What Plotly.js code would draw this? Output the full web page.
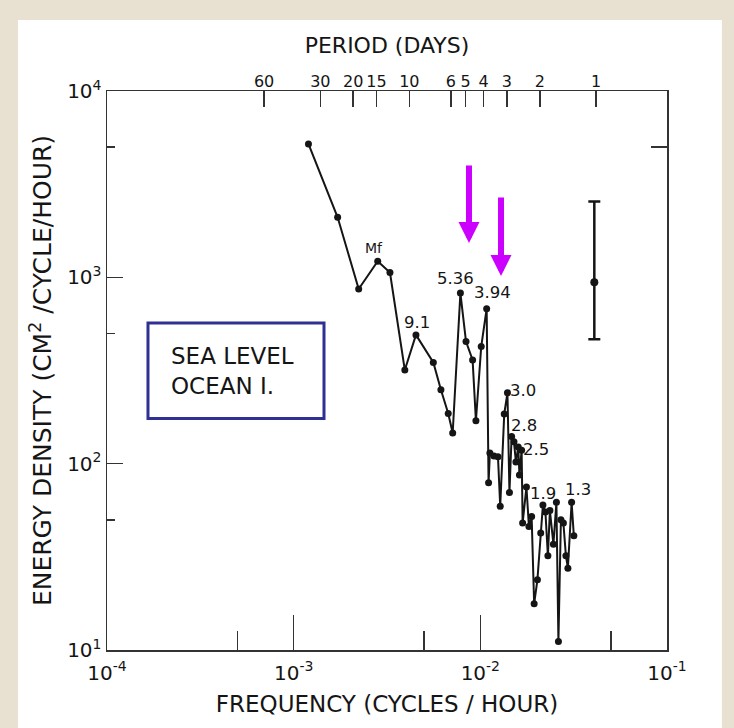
<!DOCTYPE html>
<html>
<head>
<meta charset="utf-8">
<script src="https://cdn.plot.ly/plotly-3.0.1.min.js"></script>
<style>
html,body{margin:0;padding:0;background:#e8e0d0;}
#chart{width:734px;height:728px;}
</style>
</head>
<body>
<div id="chart"></div>
<script>
// Spectrum: frequency (cycles/hour) and energy density (cm^2/cycle/hour)
const freqCph = [
  1.20e-3, 1.72e-3, 2.23e-3, 2.82e-3, 3.28e-3, 3.94e-3, 4.52e-3, 5.60e-3, 6.15e-3, 6.73e-3,
  7.11e-3, 7.82e-3, 8.38e-3, 9.09e-3, 9.47e-3, 1.011e-2, 1.081e-2,
  1.107e-2, 1.125e-2, 1.183e-2, 1.243e-2, 1.278e-2, 1.343e-2, 1.397e-2, 1.432e-2, 1.471e-2,
  1.514e-2, 1.551e-2, 1.596e-2, 1.620e-2, 1.664e-2, 1.685e-2, 1.766e-2, 1.821e-2, 1.883e-2,
  1.942e-2, 2.022e-2, 2.106e-2, 2.164e-2, 2.232e-2, 2.301e-2, 2.359e-2, 2.463e-2, 2.556e-2,
  2.620e-2, 2.702e-2, 2.786e-2, 2.874e-2, 2.945e-2, 3.083e-2, 3.170e-2
];
const energyDensity = [
  5200, 2100, 866, 1220, 1060, 318, 491, 349, 249, 186,
  146, 823, 452, 360, 170, 425, 679,
  79, 114, 110, 109, 59, 185, 240, 70, 140,
  131, 102, 123, 87, 118, 48, 75, 46, 52,
  17.7, 23.8, 42.5, 60, 55, 32, 56, 37, 62,
  11.1, 50, 48, 32, 27.5, 62, 41
];

// Confidence interval marker
const errFreq = [0.0408];
const errEnergy = [941];
const errPlus = [1608];
const errMinus = [476];

// Axis ticks
const xTickVals = [1e-4, 1e-3, 1e-2, 1e-1];
const xTickText = ['10<sup>-4</sup>', '10<sup>-3</sup>', '10<sup>-2</sup>', '10<sup>-1</sup>'];
const xMinorVals = [5e-4, 5e-3, 5e-2];
const yTickVals = [10, 100, 1000, 10000];
const yTickText = ['10<sup>1</sup>', '10<sup>2</sup>', '10<sup>3</sup>', '10<sup>4</sup>'];
const yMinorVals = [50, 500, 5000];
const periodDays = [60, 30, 20, 15, 10, 6, 5, 4, 3, 2, 1];

// Peak labels and the index of the point they belong to
const peakLabels = ['Mf', '9.1', '5.36', '3.94', '3.0', '2.8', '2.5', '1.9', '1.3'];
const peakIndex  = [3, 6, 11, 16, 23, 25, 28, 38, 49];

const periodFreq = periodDays.map(p => 1 / (24 * p));

const FONT = 'DejaVu Sans, Liberation Sans, sans-serif';
const INK = '#151515';
const FRAME = '#333333';

const labelOffsets = [
  [-4, 13], [1, 12.5], [-5, 14.5], [6, 16], [15.5, 2.5], [12, 11], [18, -2.5], [0.5, 12], [6, 13]
];
const labelSizes = [14, 16.5, 16.5, 16.5, 16.5, 16.5, 16.5, 16.5, 16.5];

const annotations = peakLabels.map((t, k) => ({
  text: t,
  x: Math.log10(freqCph[peakIndex[k]]),
  y: Math.log10(energyDensity[peakIndex[k]]),
  xref: 'x', yref: 'y',
  xshift: labelOffsets[k][0], yshift: labelOffsets[k][1],
  showarrow: false,
  font: {family: FONT, size: labelSizes[k], color: INK}
}));

// magenta arrows
annotations.push({
  x: 0.6464, y: 0.7281, xref: 'paper', yref: 'paper',
  ax: 0, ay: -79, showarrow: true, text: '',
  arrowcolor: '#cc00ff', arrowwidth: 6, arrowhead: 2, arrowsize: 0.7
});
annotations.push({
  x: 0.7036, y: 0.6691, xref: 'paper', yref: 'paper',
  ax: 0, ay: -80, showarrow: true, text: '',
  arrowcolor: '#cc00ff', arrowwidth: 6, arrowhead: 2, arrowsize: 0.7
});
// boxed label
annotations.push({
  text: 'SEA LEVEL<br>OCEAN I.', x: 0.1107, y: (650 - 371) / 559, xref: 'paper', yref: 'paper',
  xanchor: 'left', yanchor: 'middle', align: 'left', showarrow: false,
  font: {family: FONT, size: 23, color: INK}
});

const traces = [
  {
    type: 'scatter', mode: 'lines+markers',
    x: freqCph, y: energyDensity,
    line: {color: INK, width: 2},
    marker: {color: INK, size: 7},
    hoverinfo: 'x+y'
  },
  {
    type: 'scatter', mode: 'markers',
    x: errFreq, y: errEnergy,
    marker: {color: INK, size: 8},
    error_y: {type: 'data', symmetric: false, array: errPlus, arrayminus: errMinus,
              color: INK, thickness: 2.5, width: 6}
  },
  {
    type: 'scatter', mode: 'markers',
    x: errFreq, y: errEnergy, xaxis: 'x2', yaxis: 'y2',
    marker: {opacity: 0}, hoverinfo: 'skip'
  }
];

const layout = {
  width: 734, height: 728,
  margin: {l: 107, r: 67, t: 91, b: 78},
  paper_bgcolor: '#e8e0d0',
  plot_bgcolor: '#ffffff',
  showlegend: false,
  font: {family: FONT, color: INK},
  xaxis: {
    type: 'log', range: [-4, -1],
    showline: true, linecolor: FRAME, linewidth: 1.5, mirror: true,
    showgrid: false, zeroline: false,
    tickmode: 'array', tickvals: xTickVals, ticktext: xTickText,
    ticks: 'inside', ticklen: 35, tickwidth: 1.5, tickcolor: FRAME,
    ticklabelstandoff: 4,
    tickfont: {family: FONT, size: 20, color: INK},
    minor: {tickmode: 'array', tickvals: xMinorVals, ticks: 'inside', ticklen: 19,
            tickwidth: 1.5, tickcolor: FRAME, showgrid: false},
    title: {text: 'FREQUENCY (CYCLES / HOUR)', font: {family: FONT, size: 23, color: INK}, standoff: 12}
  },
  yaxis: {
    type: 'log', range: [1, 4],
    showline: true, linecolor: FRAME, linewidth: 1.5, mirror: true,
    showgrid: false, zeroline: false,
    tickmode: 'array', tickvals: yTickVals, ticktext: yTickText,
    ticks: 'inside', ticklen: 16, tickwidth: 1.5, tickcolor: FRAME,
    tickfont: {family: FONT, size: 20, color: INK},
    minor: {tickmode: 'array', tickvals: yMinorVals, ticks: 'inside', ticklen: 8,
            tickwidth: 1.5, tickcolor: FRAME, showgrid: false},
    title: {text: 'ENERGY DENSITY (CM<sup>2</sup> /CYCLE/HOUR)', font: {family: FONT, size: 25, color: INK}, standoff: 8}
  },
  xaxis2: {
    type: 'log', range: [-4, -1], overlaying: 'x', side: 'top', anchor: 'y',
    showline: false, showgrid: false, zeroline: false,
    tickmode: 'array', tickvals: periodFreq, ticktext: periodDays.map(String),
    tickangle: 0,
    ticks: 'inside', ticklen: 16, tickwidth: 1.5, tickcolor: FRAME,
    tickfont: {family: FONT, size: 16, color: INK},
    title: {text: 'PERIOD (DAYS)', font: {family: FONT, size: 22, color: INK}, standoff: 12}
  },
  yaxis2: {
    type: 'log', range: [1, 4], overlaying: 'y', side: 'right', anchor: 'x',
    showline: false, showgrid: false, zeroline: false, showticklabels: false,
    tickmode: 'array', tickvals: [5000],
    ticks: 'inside', ticklen: 16, tickwidth: 1.5, tickcolor: FRAME
  },
  shapes: [
    {type: 'rect', xref: 'paper', yref: 'paper', layer: 'below',
     x0: -0.159, x1: 1.098, y0: -0.14, y1: 1.127,
     fillcolor: '#ffffff', line: {width: 0}},
    {type: 'rect', xref: 'paper', yref: 'paper',
     x0: 0.0732, x1: 0.3875, y0: 0.4141, y1: 0.585,
     fillcolor: 'rgba(255,255,255,0)', line: {color: '#2e3192', width: 3}}
  ],
  annotations: annotations
};

Plotly.newPlot('chart', traces, layout, {displayModeBar: false, staticPlot: true});
</script>
</body>
</html>
